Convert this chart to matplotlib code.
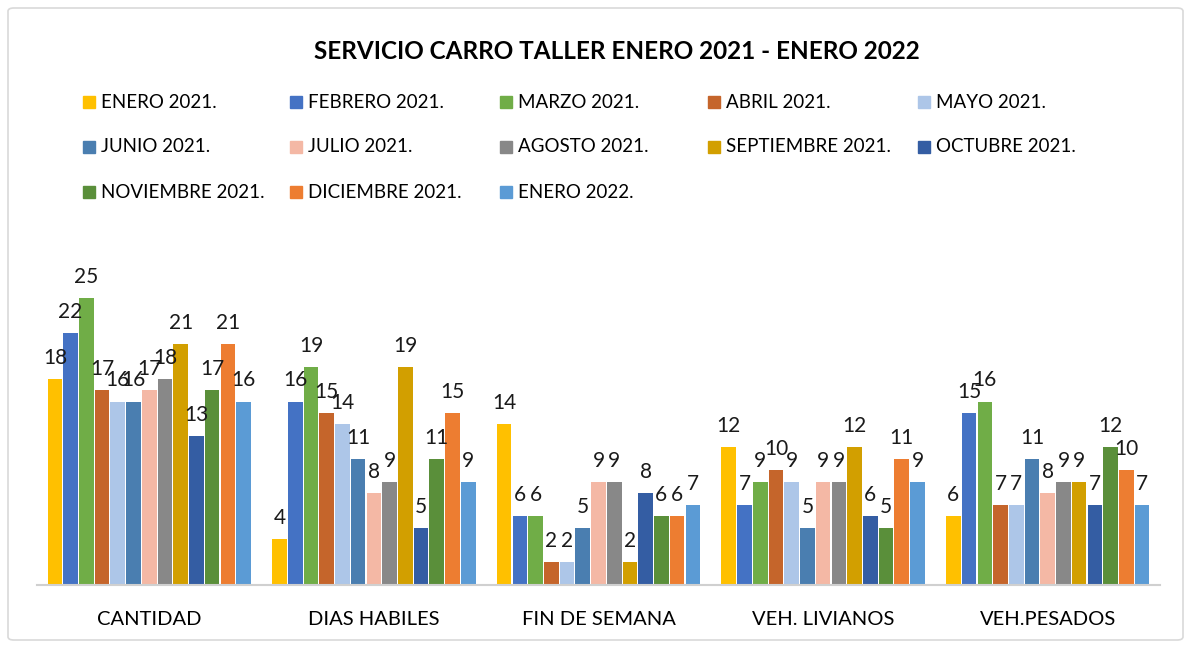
import numpy as np
import matplotlib
matplotlib.use("Agg")
import matplotlib.pyplot as plt
import matplotlib.patches as patches

plt.rcParams['font.family'] = ['Lato', 'DejaVu Sans']

# categorias y series por mes
categorias = ['CANTIDAD', 'DIAS HABILES', 'FIN DE SEMANA', 'VEH. LIVIANOS', 'VEH.PESADOS']
meses = ['ENERO 2021.', 'FEBRERO 2021.', 'MARZO 2021.', 'ABRIL 2021.', 'MAYO 2021.',
         'JUNIO 2021.', 'JULIO 2021.', 'AGOSTO 2021.', 'SEPTIEMBRE 2021.', 'OCTUBRE 2021.',
         'NOVIEMBRE 2021.', 'DICIEMBRE 2021.', 'ENERO 2022.']
colores = ['#FFC000', '#4472C4', '#70AD47', '#C5652B', '#ADC6E8',
           '#4A7EB0', '#F4B8A5', '#888888', '#D29F00', '#345DA3',
           '#5A8F3A', '#ED7D31', '#5B9BD5']

ene21 = [18, 4, 14, 12, 6]
feb21 = [22, 16, 6, 7, 15]
mar21 = [25, 19, 6, 9, 16]
abr21 = [17, 15, 2, 10, 7]
may21 = [16, 14, 2, 9, 7]
jun21 = [16, 11, 5, 5, 11]
jul21 = [17, 8, 9, 9, 8]
ago21 = [18, 9, 9, 9, 9]
sep21 = [21, 19, 2, 12, 9]
oct21 = [13, 5, 8, 6, 7]
nov21 = [17, 11, 6, 5, 12]
dic21 = [21, 15, 6, 11, 10]
ene22 = [16, 9, 7, 9, 7]
series = [ene21, feb21, mar21, abr21, may21, jun21, jul21, ago21, sep21, oct21, nov21, dic21, ene22]

fig = plt.figure(figsize=(11.91, 6.46), dpi=100)
ax = fig.add_axes([0.031, 0.0944, 0.943, 0.5325])

x = np.arange(len(categorias))
n = len(series)
grupo = 0.91
w = grupo / n
for i, vals in enumerate(series):
    pos = x - grupo / 2 + w * (i + 0.5)
    bars = ax.bar(pos, vals, width=w * 0.93, color=colores[i], zorder=2)
    ax.bar_label(bars, labels=[str(v) for v in vals], padding=8, fontsize=15, color='#1a1a1a')

ax.set_xlim(-0.5, len(categorias) - 0.5)
ax.set_ylim(0, 30)
ax.set_xticks(x)
ax.set_xticklabels(categorias, fontsize=14.5)
ax.tick_params(axis='x', length=0, pad=19)
ax.set_yticks([])
for s in ['top', 'right', 'left']:
    ax.spines[s].set_visible(False)
ax.spines['bottom'].set_color('#d0d0d0')
ax.spines['bottom'].set_linewidth(1.5)

fig.text(0.518, 0.92, 'SERVICIO CARRO TALLER ENERO 2021 - ENERO 2022',
         ha='center', va='center', fontsize=17.5, fontweight='bold')

# leyenda en 5 columnas de ancho fijo
col_x = [83, 290, 500, 708, 918]
fila_y = [102, 147, 192]
for i, nombre in enumerate(meses):
    cx = col_x[i % 5]
    cy = fila_y[i // 5]
    fig.patches.append(patches.Rectangle((cx / 1191, 1 - (cy + 6) / 646), 12 / 1191, 12 / 646,
                                         transform=fig.transFigure, color=colores[i]))
    fig.text((cx + 18) / 1191, 1 - cy / 646, nombre, ha='left', va='center', fontsize=13.5)

# borde del grafico
fig.patches.append(patches.FancyBboxPatch((8 / 1191, 6 / 646), 1175 / 1191, 632 / 646,
                                          boxstyle='round,pad=0,rounding_size=0.005',
                                          transform=fig.transFigure, fill=False,
                                          edgecolor='#d9d9d9', linewidth=1.2))

fig.savefig('out.png', dpi=100)
